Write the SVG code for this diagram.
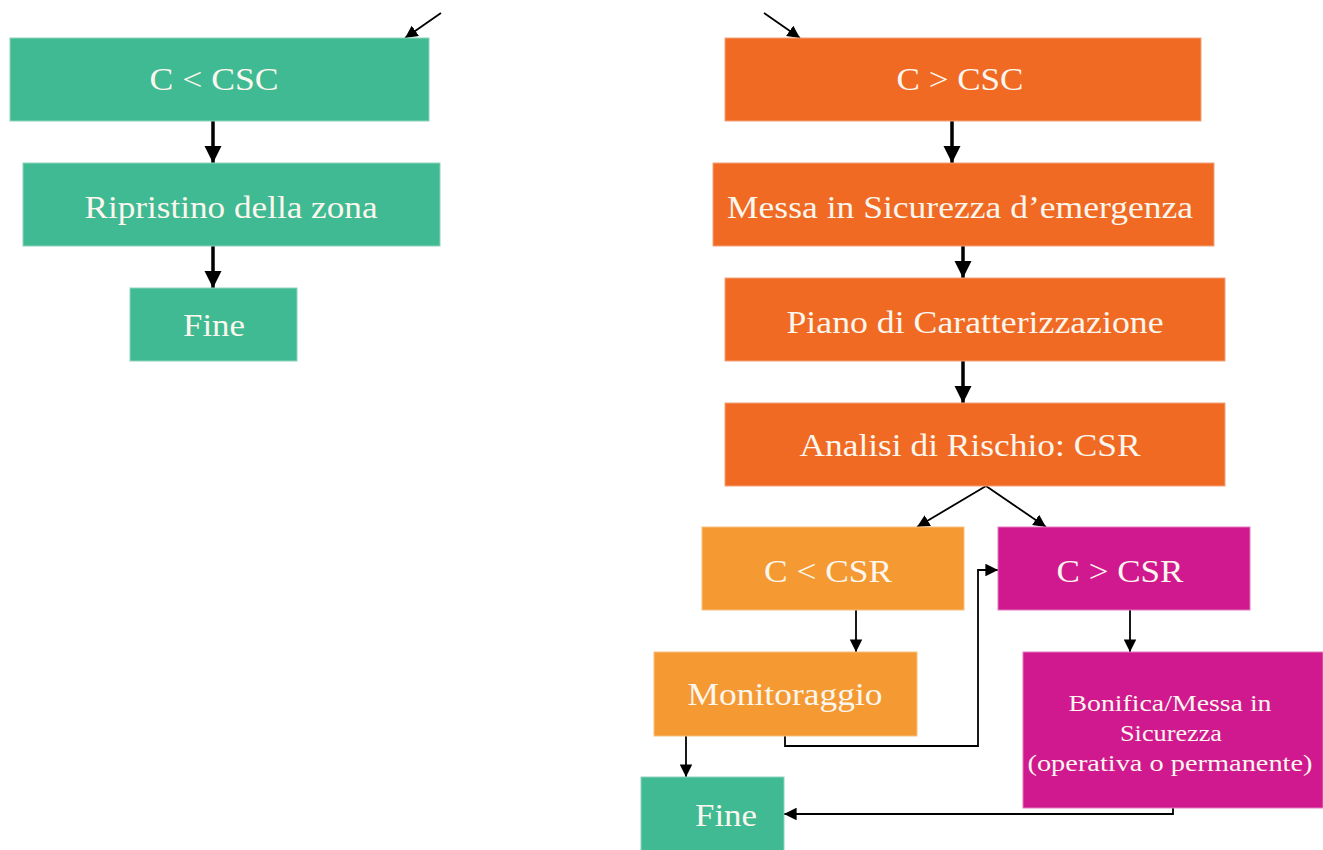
<svg xmlns="http://www.w3.org/2000/svg" width="1323" height="850" viewBox="0 0 1323 850">
<style>
.t{font-family:"Liberation Serif","Times New Roman",serif;font-size:31px;fill:#FBF6EE;text-anchor:middle}
.s{font-family:"Liberation Serif","Times New Roman",serif;font-size:23px;fill:#FBF6EE;text-anchor:middle}
.g{fill:#3FBA92;stroke:#8FD3BC;stroke-width:1}
.o{fill:#F06A23;stroke:#F3A27A;stroke-width:1}
.lo{fill:#F59A33;stroke:#F8C07E;stroke-width:1}
.m{fill:#D0198F;stroke:#E27BBF;stroke-width:1}
.thick{stroke:#000;stroke-width:3.5;fill:none}
.thin{stroke:#000;stroke-width:1.8;fill:none}
</style>
<defs>
<marker id="ah" viewBox="0 0 10 10" refX="10" refY="5" markerWidth="5" markerHeight="5" orient="auto" markerUnits="strokeWidth"><path d="M0,0 L10,5 L0,10 z" fill="#000"/></marker>
<marker id="ahs" viewBox="0 0 10 10" refX="10" refY="5" markerWidth="7" markerHeight="7" orient="auto" markerUnits="strokeWidth"><path d="M0,0 L10,5 L0,10 z" fill="#000"/></marker>
</defs>
<rect width="1323" height="850" fill="#FFFFFF"/>

<g id="connectors">
<line class="thin" x1="441" y1="13" x2="405" y2="38" marker-end="url(#ahs)"/>
<line class="thin" x1="764" y1="13" x2="800" y2="38" marker-end="url(#ahs)"/>
<line class="thick" x1="213" y1="121" x2="213" y2="163" marker-end="url(#ah)"/>
<line class="thick" x1="213" y1="246" x2="213" y2="288" marker-end="url(#ah)"/>
<line class="thick" x1="952" y1="121" x2="952" y2="163" marker-end="url(#ah)"/>
<line class="thick" x1="963" y1="246" x2="963" y2="278" marker-end="url(#ah)"/>
<line class="thick" x1="963" y1="361" x2="963" y2="403" marker-end="url(#ah)"/>
<line class="thin" x1="986" y1="486" x2="917" y2="527" marker-end="url(#ahs)"/>
<line class="thin" x1="986" y1="486" x2="1046" y2="527" marker-end="url(#ahs)"/>
<line class="thin" x1="856" y1="610" x2="856" y2="652" marker-end="url(#ahs)"/>
<line class="thin" x1="1130" y1="610" x2="1130" y2="652" marker-end="url(#ahs)"/>
<line class="thin" x1="686" y1="736" x2="686" y2="777" marker-end="url(#ahs)"/>
<polyline class="thin" points="785,736 785,746 978,746 978,570 998,570" marker-end="url(#ahs)"/>
<polyline class="thin" points="1173,808 1173,814 784,814" marker-end="url(#ahs)"/>
</g>

<g id="n-c-lt-csc"><rect class="g" x="10" y="38" width="419" height="83"/><text class="t" x="214" y="90" textLength="129" lengthAdjust="spacingAndGlyphs">C &lt; CSC</text></g>
<g id="n-ripristino"><rect class="g" x="23" y="163" width="417" height="83"/><text class="t" x="231" y="218" textLength="293" lengthAdjust="spacingAndGlyphs">Ripristino della zona</text></g>
<g id="n-fine1"><rect class="g" x="130" y="288" width="167" height="73"/><text class="t" x="214" y="336" textLength="62" lengthAdjust="spacingAndGlyphs">Fine</text></g>

<g id="n-c-gt-csc"><rect class="o" x="725" y="38" width="476" height="83"/><text class="t" x="960" y="90" textLength="127" lengthAdjust="spacingAndGlyphs">C &gt; CSC</text></g>
<g id="n-messa"><rect class="o" x="713" y="163" width="501" height="83"/><text class="t" x="960" y="218" textLength="466" lengthAdjust="spacingAndGlyphs">Messa in Sicurezza d’emergenza</text></g>
<g id="n-piano"><rect class="o" x="725" y="278" width="500" height="83"/><text class="t" x="975" y="333" textLength="377" lengthAdjust="spacingAndGlyphs">Piano di Caratterizzazione</text></g>
<g id="n-analisi"><rect class="o" x="725" y="403" width="500" height="83"/><text class="t" x="970" y="456" textLength="341" lengthAdjust="spacingAndGlyphs">Analisi di Rischio: CSR</text></g>

<g id="n-c-lt-csr"><rect class="lo" x="702" y="527" width="262" height="83"/><text class="t" x="828" y="582" textLength="128" lengthAdjust="spacingAndGlyphs">C &lt; CSR</text></g>
<g id="n-c-gt-csr"><rect class="m" x="998" y="527" width="252" height="83"/><text class="t" x="1120" y="582" textLength="127" lengthAdjust="spacingAndGlyphs">C &gt; CSR</text></g>
<g id="n-monitoraggio"><rect class="lo" x="654" y="652" width="263" height="84"/><text class="t" x="785" y="705" textLength="195" lengthAdjust="spacingAndGlyphs">Monitoraggio</text></g>
<g id="n-bonifica"><rect class="m" x="1023" y="652" width="300" height="156"/>
<text class="s" x="1170" y="711" textLength="203" lengthAdjust="spacingAndGlyphs">Bonifica/Messa in</text>
<text class="s" x="1171" y="741" textLength="102" lengthAdjust="spacingAndGlyphs">Sicurezza</text>
<text class="s" x="1170" y="771" textLength="285" lengthAdjust="spacingAndGlyphs">(operativa o permanente)</text></g>
<g id="n-fine2"><rect class="g" x="641" y="777" width="143" height="80"/><text class="t" x="726" y="826" textLength="62" lengthAdjust="spacingAndGlyphs">Fine</text></g>
</svg>
